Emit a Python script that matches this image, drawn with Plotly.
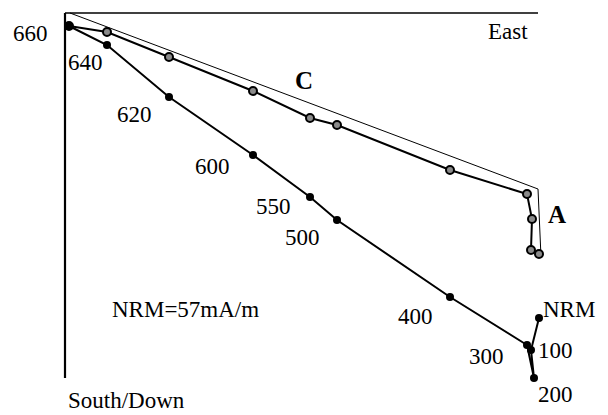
import plotly.graph_objects as go

# Demagnetisation steps (NRM -> 660)
steps = ["NRM", "100", "200", "300", "400", "500", "550", "600", "620", "640", "660"]

# Vertical projection (filled circles): East, Down (arbitrary units)
vert_east = [47.4, 46.6, 46.9, 46.2, 38.5, 27.2, 24.5, 18.8, 10.4, 4.2, 0.4]
vert_down = [30.5, 33.7, 36.5, 33.2, 28.4, 20.7, 18.4, 14.2, 8.4, 3.2, 1.3]

# Horizontal projection (open circles): East, South
horiz_east = [47.4, 46.6, 46.7, 46.2, 38.5, 27.2, 24.5, 18.8, 10.4, 4.2, 0.4]
horiz_south = [24.1, 23.7, 20.6, 18.1, 15.7, 11.2, 10.5, 7.8, 4.4, 1.9, 1.3]

# Thin envelope line (C)
c_east = [0.5, 47.3, 47.6]
c_south = [0.0, 17.6, 24.4]

# Axis extents (East axis along top, South/Down axis along left)
axis_east_max = 47.3
axis_down_max = 36.5

# Step labels and their positions
label_text = ["660", "640", "620", "600", "550", "500", "400", "300", "NRM", "100", "200"]
label_x = [-3.5, 2.0, 6.9, 14.7, 20.8, 23.7, 35.0, 42.1, 50.4, 49.0, 49.0]
label_y = [2.0, 4.9, 10.1, 15.3, 19.3, 22.4, 30.3, 34.3, 29.6, 33.7, 38.1]

# Other texts
other_text = ["East", "NRM=57mA/m", "South/Down"]
other_x = [44.3, 12.0, 6.1]
other_y = [1.8, 29.6, 38.75]

bold_text = ["A", "C"]
bold_x = [49.2, 23.9]
bold_y = [20.1, 6.7]

FONT = "Liberation Serif, Times New Roman, serif"

fig = go.Figure()
fig.add_trace(go.Scatter(x=c_east, y=c_south, mode="lines",
                         line=dict(color="black", width=1), hoverinfo="skip"))
fig.add_trace(go.Scatter(x=horiz_east, y=horiz_south, mode="lines+markers",
                         line=dict(color="black", width=2),
                         marker=dict(size=8, color="#8a8a8a",
                                     line=dict(color="black", width=2)),
                         text=steps))
fig.add_trace(go.Scatter(x=vert_east, y=vert_down, mode="lines+markers",
                         line=dict(color="black", width=2),
                         marker=dict(size=8, color="black"),
                         text=steps))

annotations = []
for t, x, y in zip(label_text + other_text, label_x + other_x, label_y + other_y):
    annotations.append(dict(x=x, y=y, text=t, showarrow=False, xanchor="center",
                            yanchor="middle", font=dict(family=FONT, size=23, color="black")))
for t, x, y in zip(bold_text, bold_x, bold_y):
    annotations.append(dict(x=x, y=y, text="<b>" + t + "</b>", showarrow=False,
                            xanchor="center", yanchor="middle",
                            font=dict(family=FONT, size=25, color="black")))

shapes = [
    dict(type="line", x0=0, x1=axis_east_max, y0=0, y1=0,
         line=dict(color="black", width=1.6), layer="below"),
    dict(type="line", x0=0, x1=0, y0=0, y1=axis_down_max,
         line=dict(color="black", width=2.2), layer="below"),
]

fig.update_layout(
    width=600, height=407,
    margin=dict(l=0, r=0, t=0, b=0, pad=0),
    paper_bgcolor="white", plot_bgcolor="white",
    showlegend=False,
    annotations=annotations,
    shapes=shapes,
    xaxis=dict(range=[-5.7, 54.3], visible=False),
    yaxis=dict(range=[40.2, -0.5], visible=False),
)

fig.write_html("out.html")
